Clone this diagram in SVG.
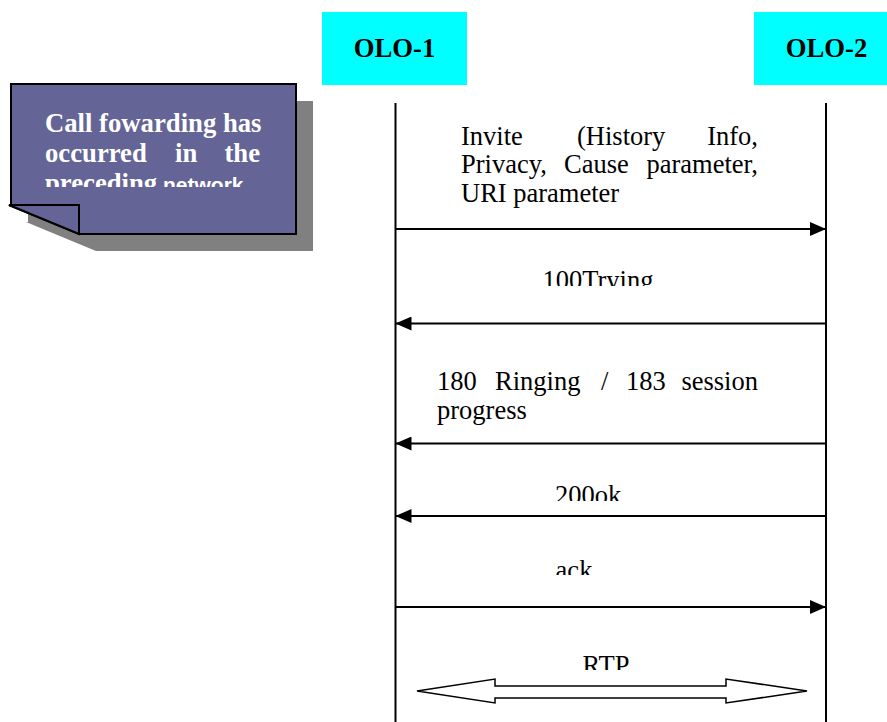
<svg xmlns="http://www.w3.org/2000/svg" width="887" height="722" viewBox="0 0 887 722">
<style>
.t{font-family:"Liberation Serif","Times New Roman",serif;font-size:26.5px;fill:#000}
.b{font-family:"Liberation Serif","Times New Roman",serif;font-size:26.7px;font-weight:bold}
.ln{stroke:#000;stroke-width:2;fill:none}
.head{fill:#000;stroke:none}
</style>
<defs>
<marker id="arr" markerWidth="16" markerHeight="14" refX="16" refY="7" orient="auto" markerUnits="userSpaceOnUse">
<path d="M0,0 L16,7 L0,14 Z" class="head"/>
</marker>
<clipPath id="c100"><rect x="500" y="260" width="200" height="26"/></clipPath>
<clipPath id="c200"><rect x="500" y="470" width="200" height="31"/></clipPath>
<clipPath id="cack"><rect x="500" y="550" width="200" height="25"/></clipPath>
<clipPath id="crtp"><rect x="500" y="640" width="200" height="30"/></clipPath>
<clipPath id="cnote"><rect x="30" y="100" width="250" height="87"/></clipPath>
</defs>
<rect width="887" height="722" fill="#fff"/>

<g id="note">
<path d="M11,84 H296 V234 H79 L9,205 L11,205 Z" fill="#808080" transform="translate(17,17)"/>
<path d="M11,84 H296 V234 H79 L9,205 L11,205 Z" fill="#646496" stroke="#000" stroke-width="2"/>
<path d="M9,205 H79 V234 Z" fill="#646496" stroke="#000" stroke-width="2"/>
<g clip-path="url(#cnote)" fill="#fff">
<text class="b" x="45" y="132">Call fowarding has</text>
<text class="b" x="45" y="162">occurred</text>
<text class="b" x="175" y="162">in</text>
<text class="b" x="260" y="162" text-anchor="end">the</text>
<text class="b" x="45" y="192">preceding</text>
<text x="163" y="192" font-family="'Liberation Sans',Arial,sans-serif" font-size="21px" font-weight="bold">network</text>
</g>
</g>

<g id="olo1">
<rect x="322" y="12" width="145" height="73" fill="#00FFFF"/>
<text class="b" x="394.5" y="57" text-anchor="middle">OLO-1</text>
</g>
<g id="olo2">
<rect x="754" y="12" width="145" height="73" fill="#00FFFF"/>
<text class="b" x="826.5" y="57" text-anchor="middle">OLO-2</text>
</g>

<g id="lifelines">
<line class="ln" x1="395.5" y1="103" x2="395.5" y2="722"/>
<line class="ln" x1="826" y1="103" x2="826" y2="722"/>
</g>

<g id="connectors">
<line class="ln" x1="395.5" y1="229" x2="826" y2="229" marker-end="url(#arr)"/>
<line class="ln" x1="826" y1="323.5" x2="395.5" y2="323.5" marker-end="url(#arr)"/>
<line class="ln" x1="826" y1="443.5" x2="395.5" y2="443.5" marker-end="url(#arr)"/>
<line class="ln" x1="826" y1="516" x2="395.5" y2="516" marker-end="url(#arr)"/>
<line class="ln" x1="395.5" y1="607" x2="826" y2="607" marker-end="url(#arr)"/>
<path d="M417,691 L495,679 V686 H726 V679 L807,691 L726,703 V698 H495 V703 Z" fill="#fff" stroke="#000" stroke-width="1.5"/>
</g>

<g id="labels">
<text class="t" x="461" y="145">Invite</text>
<text class="t" x="577" y="145">(History</text>
<text class="t" x="758" y="145" text-anchor="end">Info,</text>
<text class="t" x="461" y="173">Privacy,</text>
<text class="t" x="564" y="173">Cause</text>
<text class="t" x="758" y="173" text-anchor="end">parameter,</text>
<text class="t" x="461" y="202">URI parameter</text>

<text class="t" x="598" y="289" text-anchor="middle" clip-path="url(#c100)">100Trying</text>

<text class="t" x="437" y="390">180</text>
<text class="t" x="495" y="390">Ringing</text>
<text class="t" x="601" y="390">/</text>
<text class="t" x="626" y="390">183</text>
<text class="t" x="758" y="390" text-anchor="end">session</text>
<text class="t" x="437" y="419">progress</text>

<text class="t" x="588" y="504" text-anchor="middle" clip-path="url(#c200)">200ok</text>
<text class="t" x="574" y="579" text-anchor="middle" clip-path="url(#cack)">ack</text>
<text class="t" x="606" y="674" text-anchor="middle" clip-path="url(#crtp)">RTP</text>
</g>
</svg>
